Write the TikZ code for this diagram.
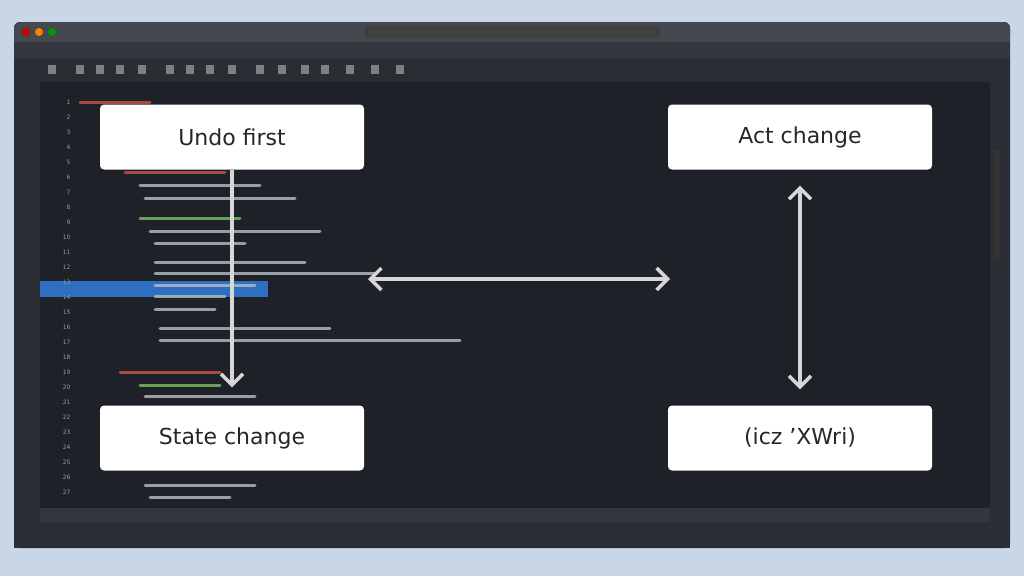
\documentclass[tikz,border=0pt]{standalone}
\usepackage{fontspec}
\setmainfont{DejaVu Sans}
\usetikzlibrary{arrows.meta}
\definecolor{bgc}{HTML}{C9D6E8}
\definecolor{win}{HTML}{2A2D34}
\definecolor{edit}{HTML}{1E2127}
\definecolor{bar}{HTML}{33363D}
\definecolor{tbar}{HTML}{45484F}
\definecolor{hl}{HTML}{2F6FBF}
\definecolor{arr}{HTML}{D6D6D6}
\definecolor{codew}{HTML}{B8BCC4}
\definecolor{codeg}{HTML}{7DBE6A}
\definecolor{coder}{HTML}{C8554A}
\tikzset{
 box/.style={fill=white,rounded corners=4pt,minimum width=264pt,minimum height=65pt,inner sep=0pt,font=\fontsize{22}{26}\selectfont,text=black!85},
 link/.style={draw=arr,line width=3.5pt,arrows={-Straight Barb[length=11pt,width=22pt]}},
 dlink/.style={link,arrows={Straight Barb[length=11pt,width=22pt]-Straight Barb[length=11pt,width=22pt]}},
 code/.style={line width=3pt,line cap=round,opacity=0.8},
 lnum/.style={font=\fontsize{6}{7}\selectfont,text=gray!80,anchor=east}
}
\begin{document}
\begin{tikzpicture}[x=1pt,y=-1pt]
\useasboundingbox (0,0) rectangle (1024,576);
\fill[bgc] (0,0) rectangle (1024,576);
\fill[win,rounded corners=6pt] (14,22) rectangle (1010,548);
\fill[tbar,rounded corners=6pt] (14,22) rectangle (1010,42);
\fill[tbar] (14,36) rectangle (1010,42);
\fill[gray!50!black] (365,26) rectangle (660,38);
\fill[red!80!black] (26,32) circle (4);
\fill[orange] (39,32) circle (4);
\fill[green!60!black] (52,32) circle (4);
\fill[bar] (14,42) rectangle (1010,58);
\fill[win] (14,58) rectangle (1010,80);
\foreach \x in {52,80,100,120,142,170,190,210,232,260,282,305,325,350,375,400} \fill[gray] (\x-4,65) rectangle (\x+4,74);
\fill[edit] (40,82) rectangle (990,508);
\fill[gray!40!black] (993,150) rectangle (1000,260);
\fill[hl] (40,281) rectangle (268,297);
\foreach \i [count=\n] in {102,117,132,147,162,177,192,207,222,237,252,267,282,297,312,327,342,357,372,387,402,417,432,447,462,477,492}
  \node[lnum] at (74,\i) {\n};
\foreach \x/\y/\l/\c in {
 80/102/70/coder, 125/172/100/coder, 140/185/120/codew, 145/198/150/codew,
 140/218/100/codeg, 150/231/170/codew, 155/243/90/codew, 155/262/150/codew,
 155/273/220/codew, 155/285/100/codew, 155/296/70/codew, 155/309/60/codew,
 160/328/170/codew, 160/340/300/codew, 120/372/100/coder, 140/385/80/codeg,
 145/396/110/codew, 145/485/110/codew, 150/497/80/codew}
  \draw[code,\c] (\x,\y) -- ++(\l,0);
\fill[bar] (40,508) rectangle (990,522);
\fill[win] (14,522) rectangle (1010,548);
\node[box] (undo) at (232,137) {Undo first};
\node[box] (act) at (800,137) {Act change};
\node[box] (state) at (232,438) {State change};
\node[box] (icz) at (800,438) {(icz 'XWri)};
\coordinate (hl) at (368,279);
\coordinate (hr) at (670,279);
\draw[link] (undo.south) -- ([yshift=18pt]state.north);
\draw[dlink] (hl) -- (hr);
\draw[dlink] ([yshift=-16pt]act.south) -- ([yshift=16pt]icz.north);
\end{tikzpicture}
\end{document}
